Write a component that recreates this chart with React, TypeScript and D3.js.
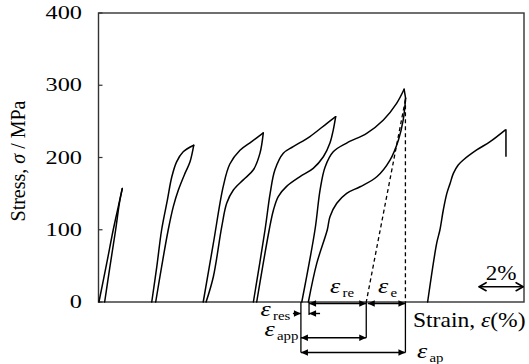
import React from "react";
import * as d3 from "d3";

const W = 529;
const H = 364;

// axis ticks
const yTicks = [0, 100, 200, 300, 400];
const strainDomain = [0, 19.34];
const stressDomain = [0, 400];

// cycle data: [strain %, stress MPa]
const c1Load = [[0.02, 0], [0.37, 53], [0.67, 100], [0.9, 132], [1.08, 157]];
const c1Unload = [[1.08, 157], [0.95, 137], [0.78, 100], [0.52, 49], [0.28, 0]];

const c2Load = [[2.42, 0], [2.65, 49], [2.87, 100], [3.13, 141], [3.33, 173], [3.55, 194], [3.85, 208], [4.33, 217]];
const c2Unload = [[4.33, 217], [4.16, 194], [3.93, 178], [3.63, 155], [3.4, 132], [3.17, 100], [2.87, 49], [2.6, 0]];

const c3Load = [[4.76, 0], [5.22, 81], [5.67, 160], [5.97, 191], [6.43, 210], [6.96, 222], [7.49, 234]];
const c3Unload = [[7.49, 234], [7.34, 206], [7.04, 183], [6.58, 169], [6.13, 155], [5.83, 137], [5.6, 104], [5.22, 35], [4.89, 0]];

const c4Load = [[7.04, 0], [7.57, 100], [7.8, 150], [8.02, 183], [8.4, 206], [8.85, 215], [9.61, 229], [10.37, 247], [10.78, 256.5]];
const c4Unload = [[10.78, 256.5], [10.67, 238], [10.52, 220], [10.22, 201], [9.76, 185], [9.16, 173.5], [8.55, 160], [8.17, 146], [7.95, 127], [7.76, 100], [7.19, 0]];

const c5Load = [[9.24, 0], [9.84, 100], [10.07, 155], [10.3, 187], [10.67, 208], [11.28, 220], [12.19, 233.5], [12.95, 252], [13.55, 275], [13.89, 294.5]];
const c5Unload = [[13.96, 282], [13.85, 252], [13.63, 224], [13.25, 196.5], [12.65, 173.4], [11.89, 159.5], [11.28, 150.4], [10.83, 136.6], [10.52, 118], [10.4, 100], [9.92, 53.4], [9.54, 0]];

const c6Load = [[14.96, 0], [15.37, 81], [15.52, 100], [15.67, 127], [15.83, 150], [15.98, 164], [16.13, 178], [16.35, 189.6], [16.58, 196.5], [17.19, 210.4], [17.8, 222], [18.48, 238]];
const c6Fracture = [[18.48, 238], [18.52, 238], [18.52, 201]];

// annotation strains (%)
const refStrain = 9.2;
const resStrain = 9.57;
const appStrain = 12.17;
const apStrain = 13.95;
const dashTopStress = 282;

const scaleBarFrom = 17.3;
const scaleBarLen = 2;

const FONT = "Liberation Serif, serif";

function SText(props: any) {
  const { x, y, sx = 1, anchor = "start", size = 18, children } = props;
  return (
    <g transform={`translate(${x},${y}) scale(${sx},1)`}>
      <text textAnchor={anchor} fontSize={size} fontFamily={FONT} fill="#000">
        {children}
      </text>
    </g>
  );
}

function EpsLabel({ x, y, sub }: { x: number; y: number; sub: string }) {
  return (
    <g transform={`translate(${x},${y})`}>
      <g transform="scale(1.3,1)">
        <text fontSize={20} fontFamily={FONT} fontStyle="italic" fill="#000">ε</text>
      </g>
      <g transform="translate(12.5,4) scale(1.1,1)">
        <text fontSize={13.5} fontFamily={FONT} fill="#000">{sub}</text>
      </g>
    </g>
  );
}

function head(tipX: number, y: number, dir: number) {
  const L = 7, hw = 3.2;
  return `M${tipX},${y}L${tipX - dir * L},${y - hw}L${tipX - dir * L},${y + hw}Z`;
}

function DimArrow({ x1, x2, y, left = true, right = true }: any) {
  return (
    <g>
      <line x1={x1} x2={x2} y1={y} y2={y} stroke="#000" strokeWidth={1.4} />
      {left && <path d={head(x1, y, -1)} fill="#000" />}
      {right && <path d={head(x2, y, 1)} fill="#000" />}
    </g>
  );
}

export default function App() {
  const left = 98.5, right = 524, top = 13, bottom = 302;
  const x = d3.scaleLinear().domain(strainDomain).range([left, right]);
  const y = d3.scaleLinear().domain(stressDomain).range([bottom, top]);
  const curve = d3
    .line<number[]>()
    .x((d) => x(d[0]))
    .y((d) => y(d[1]))
    .curve(d3.curveCatmullRom.alpha(0.5));
  const straight = d3
    .line<number[]>()
    .x((d) => x(d[0]))
    .y((d) => y(d[1]));

  const curves = [c1Load, c1Unload, c2Load, c2Unload, c3Load, c3Unload, c4Load, c4Unload, c5Load, c5Unload, c6Load];
  const peak5 = c5Load[c5Load.length - 1];

  const xr = x(refStrain), xs = x(resStrain), xa = x(appStrain), xp = x(apStrain);
  const yRe = 303.5, yRes = 313.5, yApp = 337.7, yAp = 352.5;

  const sb1 = x(scaleBarFrom), sb2 = x(scaleBarFrom + scaleBarLen), sbY = 286.7;

  return (
    <svg width={W} height={H} fontFamily={FONT} style={{ position: "absolute", left: 0, top: 0, background: "#fff" }}>
      {/* frame */}
      <rect x={left} y={top} width={right - left} height={bottom - top} fill="none" stroke="#333" strokeWidth={1.4} />
      {yTicks.map((t) => (
        <g key={t}>
          <line x1={left} x2={left + 4} y1={y(t)} y2={y(t)} stroke="#333" strokeWidth={1.2} />
          <SText x={82} y={y(t) + 6} sx={1.35} anchor="end" size={18}>{t}</SText>
        </g>
      ))}
      <g transform={`translate(24.5,161) scale(1.1,1) rotate(-90)`}>
        <text textAnchor="middle" fontSize={20} fontFamily={FONT} fill="#000">
          Stress, <tspan fontStyle="italic">σ</tspan> / MPa
        </text>
      </g>

      {/* curves */}
      {curves.map((c, i) => (
        <path key={i} d={curve(c as any) || ""} fill="none" stroke="#000" strokeWidth={1.5} strokeLinejoin="round" strokeLinecap="round" />
      ))}
      <path d={straight([peak5, c5Unload[0]] as any) || ""} fill="none" stroke="#000" strokeWidth={1.5} strokeLinecap="round" />
      <path d={straight(c6Fracture as any) || ""} fill="none" stroke="#000" strokeWidth={1.5} />

      {/* dashed construction lines */}
      <line x1={xp} x2={xp} y1={y(dashTopStress)} y2={y(0)} stroke="#000" strokeWidth={1.3} strokeDasharray="4,3" />
      <line x1={xp} x2={xa} y1={y(dashTopStress - 2)} y2={y(0)} stroke="#000" strokeWidth={1.3} strokeDasharray="4,3" />

      {/* vertical extension lines below axis */}
      <line x1={xr} x2={xr} y1={bottom} y2={yAp} stroke="#000" strokeWidth={1.3} />
      <line x1={xs} x2={xs} y1={bottom} y2={yRes + 1.5} stroke="#000" strokeWidth={1.3} />
      <line x1={xa} x2={xa} y1={bottom} y2={yApp} stroke="#000" strokeWidth={1.3} />
      <line x1={xp} x2={xp} y1={bottom} y2={yAp} stroke="#000" strokeWidth={1.3} />

      {/* dimension arrows */}
      <DimArrow x1={xs} x2={xa} y={yRe} />
      <DimArrow x1={xa + 1.5} x2={xp} y={yRe} />
      <DimArrow x1={xr - 8} x2={xr} y={yRes} left={false} />
      <DimArrow x1={xs} x2={xs + 11} y={yRes} right={false} />
      <DimArrow x1={xr} x2={xa} y={yApp} />
      <DimArrow x1={xr} x2={xp} y={yAp} />

      {/* epsilon labels */}
      <EpsLabel x={330} y={293} sub="re" />
      <EpsLabel x={378} y={293} sub="e" />
      <EpsLabel x={260.5} y={315.5} sub="res" />
      <EpsLabel x={264.5} y={335.5} sub="app" />
      <EpsLabel x={417} y={358} sub="ap" />

      {/* x-axis label */}
      <g transform="translate(413,326.5) scale(1.07,1)">
        <text fontSize={22} fontFamily={FONT} fill="#000">
          Strain, <tspan fontStyle="italic">ε</tspan>(%)
        </text>
      </g>

      {/* scale bar */}
      <SText x={(sb1 + sb2) / 2} y={280} anchor="middle" size={22} sx={1.05}>2%</SText>
      <g stroke="#000" strokeWidth={1.6} fill="none" strokeLinecap="round" strokeLinejoin="round">
        <line x1={sb1} x2={sb2} y1={sbY} y2={sbY} />
        <path d={`M${sb1 + 7},${sbY - 4}L${sb1},${sbY}L${sb1 + 7},${sbY + 4}`} />
        <path d={`M${sb2 - 7},${sbY - 4}L${sb2},${sbY}L${sb2 - 7},${sbY + 4}`} />
      </g>
    </svg>
  );
}
